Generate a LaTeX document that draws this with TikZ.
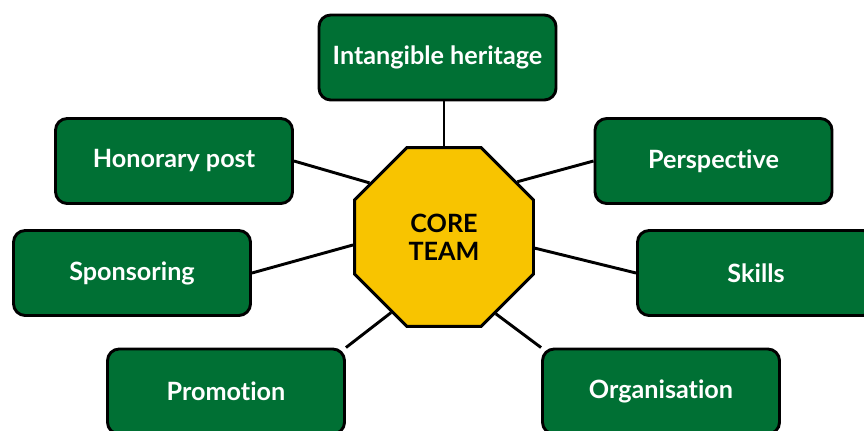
\documentclass[tikz,border=0pt]{standalone}
\usepackage{fontspec}
\setmainfont{Lato}[Ligatures=NoCommon]
\usepackage{tikz}
\usetikzlibrary{shapes.geometric, backgrounds}

\definecolor{boxgreen}{RGB}{0,112,52}
\definecolor{coreyellow}{RGB}{248,196,0}

\begin{document}
\begin{tikzpicture}[
		scale=1,
		every node/.style={font=\bfseries\fontsize{21.5}{24}\selectfont, line width=2.5pt, draw=black},
		topic/.style={rectangle, rounded corners=10pt, fill=boxgreen, text=white, minimum width=7.11cm, minimum height=2.55cm},
		core/.style={regular polygon, regular polygon sides=8, fill=coreyellow, inner sep=0pt, minimum size=5.81cm, align=center},
		link/.style={line width=2.5pt}
	]
  \useasboundingbox (0cm, 0cm) rectangle (25.92cm, -12.9cm);
  \node (core_team) [core] at (13.32cm, -7.11cm) {CORE\\TEAM};
  \node (int_her) [topic] at (13.125cm, -1.725cm) {Intangible heritage};
  \node (hon_post) [topic] at (5.22cm, -4.83cm) {Honorary post};
  \node (persp) [topic] at (21.405cm, -4.83cm) {Perspective};
  \node (spons) [topic] at (3.96cm, -8.19cm) {Sponsoring};
  \node (skills) [topic] at (22.68cm, -8.19cm) {Skills};
  \node (prom) [topic] at (6.78cm, -11.745cm) {Promotion};
  \node (organ) [topic] at (19.83cm, -11.745cm) {Organisation};
  \begin{scope}[on background layer]
    \draw [link] (int_her.south -| core_team.north) -- (core_team.north);
    \draw [link] (hon_post.east) -- (core_team.144);
    \draw [link] (persp.west) -- (core_team.37);
    \draw [link] (spons.east) -- (core_team.185);
    \draw [link] (skills.west) -- (core_team.-7);
    \draw [link] (prom.north east) -- (core_team.235);
    \draw [link] (organ.north west) -- (core_team.304);
  \end{scope}
\end{tikzpicture}
\end{document}
